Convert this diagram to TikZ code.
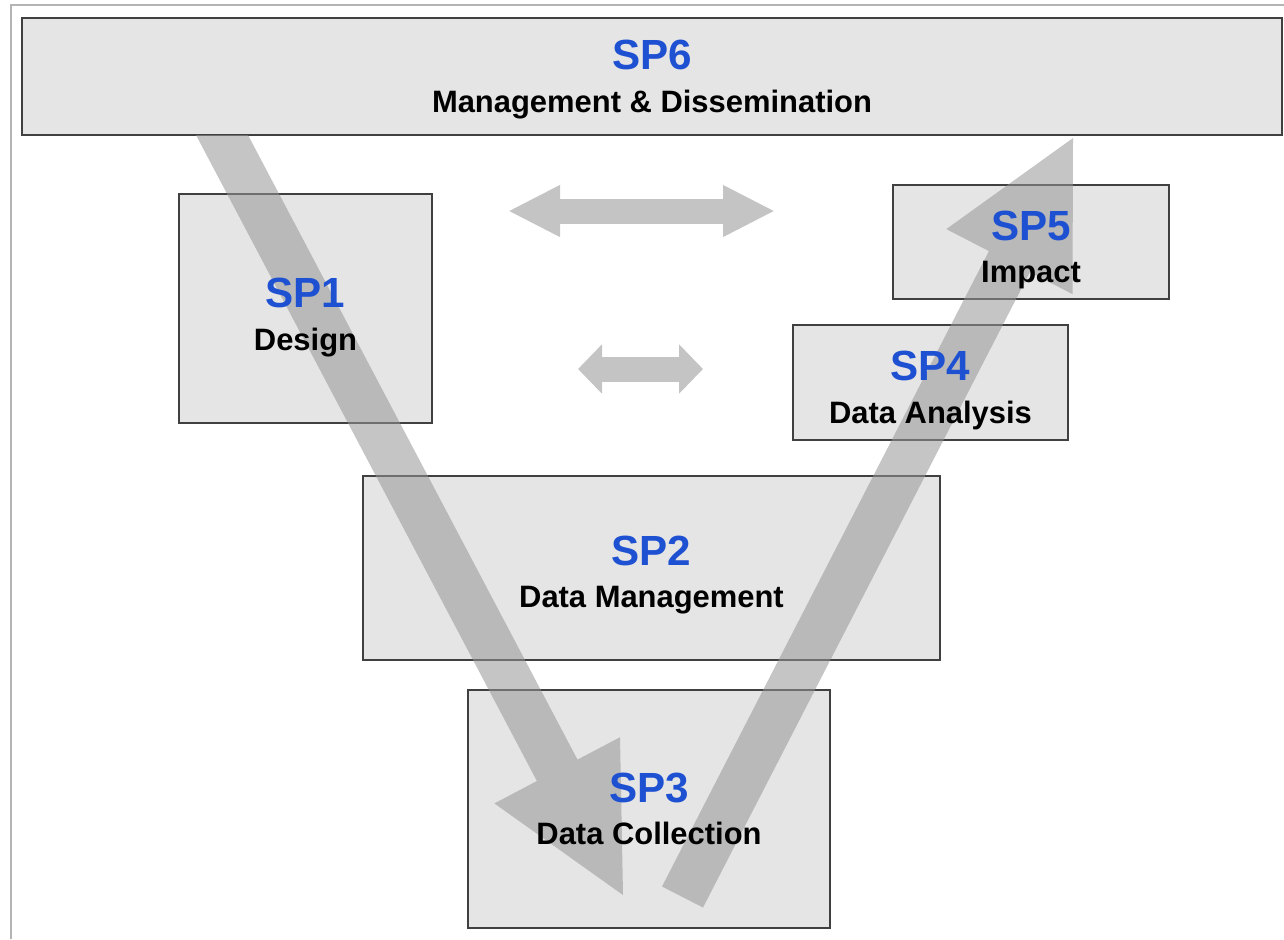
\documentclass[tikz,border=0pt]{standalone}
\usepackage{fontspec}
\setmainfont{Liberation Sans}
\usetikzlibrary{arrows.meta, calc, positioning}
\definecolor{spblue}{RGB}{30,80,210}
\definecolor{boxgray}{RGB}{229,229,229}
\definecolor{flowgray}{RGB}{149,149,149}
\definecolor{linkgray}{RGB}{196,196,196}
\definecolor{framegray}{RGB}{180,180,180}

\begin{document}
\begin{tikzpicture}[x=0.1mm, y=-0.1mm]
  \tikzstyle{box}=[draw=black!75, line width=0.6pt, fill=boxgray, inner sep=0pt]
  \tikzstyle{flow}=[fill=flowgray, opacity=0.55]
  \tikzstyle{link}=[draw=linkgray, line width=2.5mm]
  \tikzstyle{lbl}=[align=center, font=\fontsize{8.8}{12.1}\selectfont\bfseries]
  \useasboundingbox (0,0) rectangle (1284,939);
  \draw[framegray, line width=0.6pt] (11,939) -- (11,5) -- (1284,5);
  % boxes
  \node[box, minimum width=12.60cm, minimum height=1.17cm] (sp6) at (652,76.5) {};
  \node[box, minimum width=2.53cm, minimum height=2.29cm] (sp1) at (305.5,308.5) {};
  \node[box, minimum width=2.76cm, minimum height=1.14cm] (sp5) at (1031,242) {};
  \node[box, minimum width=2.75cm, minimum height=1.15cm] (sp4) at (930.5,382.5) {};
  \node[box, minimum width=5.77cm, minimum height=1.84cm] (sp2) at (651.5,568) {};
  \node[box, minimum width=3.62cm, minimum height=2.38cm] (sp3) at (649,809) {};
  % V arrows
  \fill[flow] (196,135) -- (248,135) -- (577.5,759.6) -- (620,737.2)
    -- (623,895) -- (494.4,803.4) -- (536.9,781) -- cycle;
  \fill[flow] (662,886.5) -- (703,907.5) -- (1029.9,272.1) -- (1072.5,294.1)
    -- (1073,138) -- (946.3,229.1) -- (988.9,251.1) -- cycle;
  % links
  \coordinate (up left) at (508,211); \coordinate (up right) at (775,211);
  \coordinate (low left) at (578,369); \coordinate (low right) at (703,369);
  \draw[link, {Triangle[length=5.2mm,width=4.8mm]}-{Triangle[length=5.2mm,width=4.8mm]}]
    (up left) -- (up right);
  \draw[link, {Triangle[length=2.4mm,width=4.8mm]}-{Triangle[length=2.4mm,width=4.8mm]}]
    (low left) -- (low right);
  % labels
  \node[lbl, yshift=-0.3mm] (t6) at (sp6) {{\color{spblue}\fontsize{12}{14}\selectfont SP6}\\Management \& Dissemination};
  \node[lbl, yshift=-0.9mm] (t1) at (sp1) {{\color{spblue}\fontsize{12}{14}\selectfont SP1}\\Design};
  \node[lbl, yshift=-0.8mm] (t5) at (sp5) {{\color{spblue}\fontsize{12}{14}\selectfont SP5}\\Impact};
  \node[lbl, yshift=-0.8mm] (t4) at (sp4) {{\color{spblue}\fontsize{12}{14}\selectfont SP4}\\Data Analysis};
  \node[lbl, yshift=-0.7mm] (t2) at (sp2) {{\color{spblue}\fontsize{12}{14}\selectfont SP2}\\Data Management};
  \node[lbl] (t3) at (sp3) {{\color{spblue}\fontsize{12}{14}\selectfont SP3}\\Data Collection};
\end{tikzpicture}
\end{document}
